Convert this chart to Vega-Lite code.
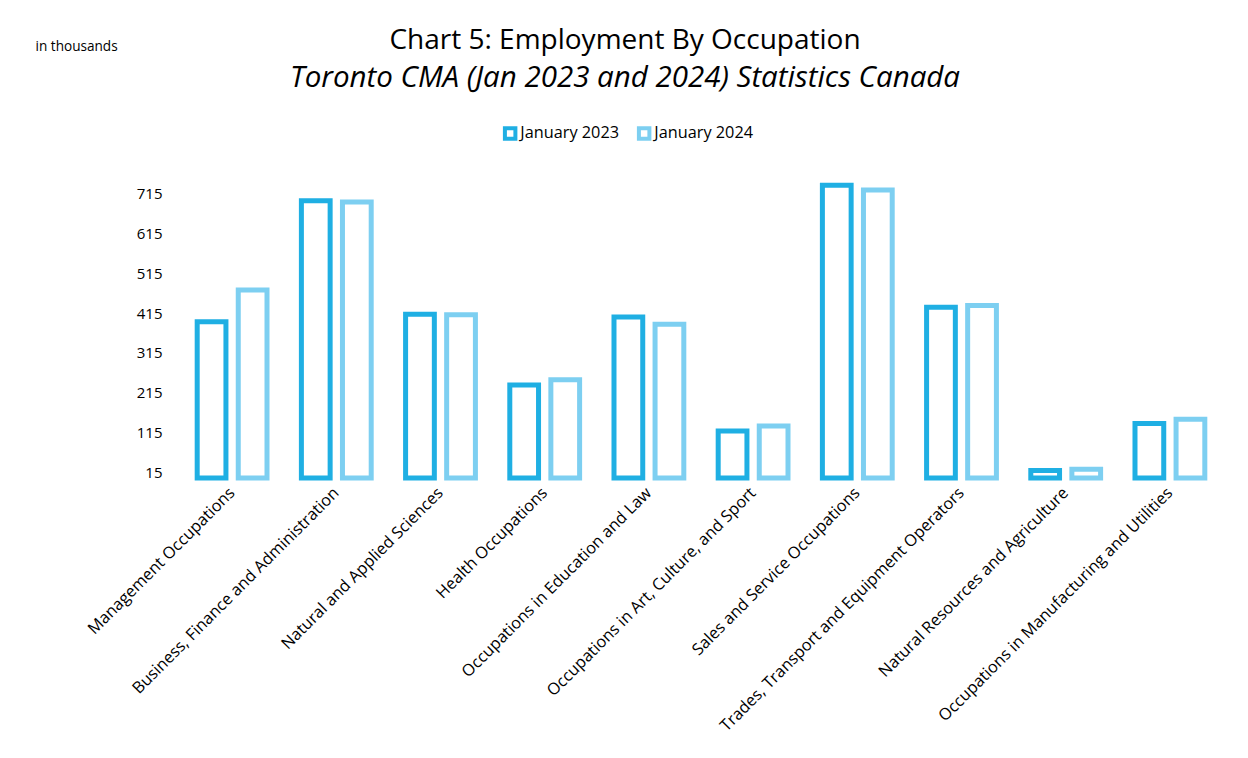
{
  "$schema": "https://vega.github.io/schema/vega-lite/v6.json",
  "autosize": {"type": "none"},
  "padding": {"left": 180, "top": 184, "right": 26, "bottom": 286},
  "width": 1042,
  "height": 288,
  "background": "white",
  "title": {
    "text": "Chart 5: Employment By Occupation",
    "subtitle": "Toronto CMA (Jan 2023 and 2024) Statistics Canada",
    "anchor": "middle",
    "dx": -76,
    "offset": -53,
    "font": "Open Sans",
    "fontSize": 28,
    "fontWeight": "normal",
    "color": "#000000",
    "subtitleFont": "Open Sans",
    "subtitleFontSize": 29.5,
    "subtitleFontStyle": "italic",
    "subtitleColor": "#000000",
    "subtitlePadding": 9
  },
  "data": {
    "values": [
      {"occupation": "Management Occupations", "period": "January 2023", "value": 393},
      {"occupation": "Management Occupations", "period": "January 2024", "value": 473},
      {"occupation": "Business, Finance and Administration", "period": "January 2023", "value": 698},
      {"occupation": "Business, Finance and Administration", "period": "January 2024", "value": 695},
      {"occupation": "Natural and Applied Sciences", "period": "January 2023", "value": 412},
      {"occupation": "Natural and Applied Sciences", "period": "January 2024", "value": 411},
      {"occupation": "Health Occupations", "period": "January 2023", "value": 234},
      {"occupation": "Health Occupations", "period": "January 2024", "value": 247},
      {"occupation": "Occupations in Education and Law", "period": "January 2023", "value": 405},
      {"occupation": "Occupations in Education and Law", "period": "January 2024", "value": 387},
      {"occupation": "Occupations in Art, Culture, and Sport", "period": "January 2023", "value": 118},
      {"occupation": "Occupations in Art, Culture, and Sport", "period": "January 2024", "value": 131},
      {"occupation": "Sales and Service Occupations", "period": "January 2023", "value": 737},
      {"occupation": "Sales and Service Occupations", "period": "January 2024", "value": 725},
      {"occupation": "Trades, Transport and Equipment Operators", "period": "January 2023", "value": 430},
      {"occupation": "Trades, Transport and Equipment Operators", "period": "January 2024", "value": 434},
      {"occupation": "Natural Resources and Agriculture", "period": "January 2023", "value": 19},
      {"occupation": "Natural Resources and Agriculture", "period": "January 2024", "value": 22},
      {"occupation": "Occupations in Manufacturing and Utilities", "period": "January 2023", "value": 137},
      {"occupation": "Occupations in Manufacturing and Utilities", "period": "January 2024", "value": 148}
    ]
  },
  "mark": {"type": "bar", "fill": "white", "strokeWidth": 5, "strokeJoin": "miter"},
  "encoding": {
    "x": {
      "field": "occupation",
      "type": "nominal",
      "sort": null,
      "scale": {"paddingInner": 0.33, "paddingOuter": 0.165},
      "axis": {
        "title": null,
        "labelAngle": -45,
        "labelAlign": "right",
        "labelBaseline": "middle",
        "labelPadding": 18,
        "labelFont": "Open Sans",
        "labelFontSize": 16.3,
        "labelColor": "#000000",
        "labelLimit": 0,
        "ticks": false,
        "domain": false
      }
    },
    "xOffset": {
      "field": "period",
      "type": "nominal",
      "scale": {"paddingInner": 0.3}
    },
    "y": {
      "field": "value",
      "type": "quantitative",
      "scale": {"domain": [15, 740], "zero": false, "nice": false},
      "axis": {
        "values": [15, 115, 215, 315, 415, 515, 615, 715],
        "grid": false,
        "ticks": false,
        "domain": false,
        "labelFont": "Open Sans",
        "labelFontSize": 15,
        "labelColor": "#000000",
        "labelPadding": 18,
        "title": "in thousands",
        "titleAngle": 0,
        "titleX": -145,
        "titleY": -134,
        "titleAlign": "left",
        "titleBaseline": "alphabetic",
        "titleFont": "Open Sans",
        "titleFontSize": 13.6,
        "titleFontWeight": "normal",
        "titleColor": "#000000"
      }
    },
    "stroke": {
      "field": "period",
      "type": "nominal",
      "scale": {"domain": ["January 2023", "January 2024"], "range": ["#1FAFE3", "#7DCFF1"]},
      "legend": {
        "title": null,
        "orient": "none",
        "direction": "horizontal",
        "legendX": 322,
        "legendY": -59,
        "symbolType": "square",
        "symbolSize": 110,
        "symbolStrokeWidth": 4,
        "symbolFillColor": "white",
        "labelFont": "Open Sans",
        "labelFontSize": 16.3,
        "labelColor": "#000000",
        "labelOffset": 2,
        "columnPadding": 10
      }
    }
  },
  "config": {"view": {"stroke": null}}
}
